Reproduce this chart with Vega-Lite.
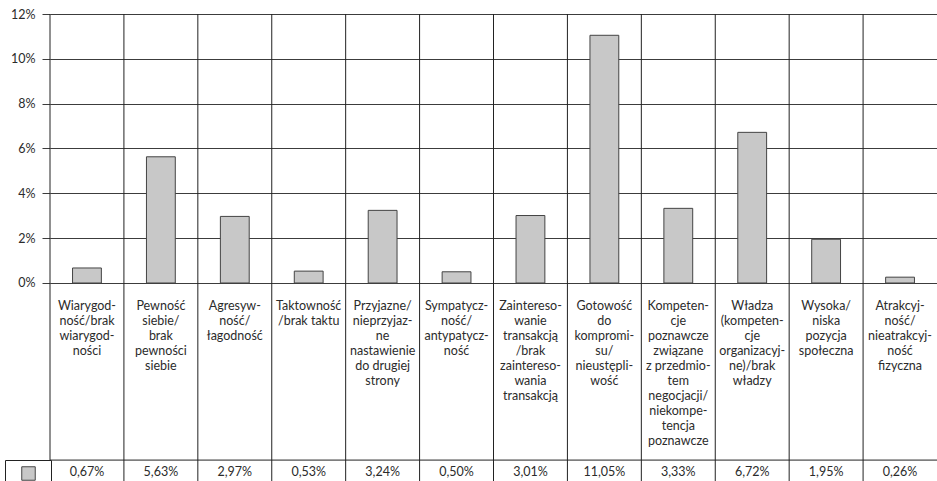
{
  "$schema": "https://vega.github.io/schema/vega-lite/v6.json",
  "width": 887,
  "height": 467,
  "autosize": {"type": "none"},
  "padding": {"left": 50, "top": 14, "right": 0, "bottom": 0},
  "background": "white",
  "config": {
    "view": {"stroke": null},
    "font": "Lato",
    "locale": {
      "number": {"decimal": ",", "thousands": "\u00a0", "grouping": [3], "currency": ["", " zł"], "percent": "%"}
    }
  },
  "data": {
    "values": [
      {"cechy": "Wiarygod-\nność/brak\nwiarygod-\nności", "udzial": 0.0067},
      {"cechy": "Pewność\nsiebie/\nbrak\npewności\nsiebie", "udzial": 0.0563},
      {"cechy": "Agresyw-\nność/\nłagodność", "udzial": 0.0297},
      {"cechy": "Taktowność\n/brak taktu", "udzial": 0.0053},
      {"cechy": "Przyjazne/\nnieprzyjaz-\nne\nnastawienie\ndo drugiej\nstrony", "udzial": 0.0324},
      {"cechy": "Sympatycz-\nność/\nantypatycz-\nność", "udzial": 0.005},
      {"cechy": "Zaintereso-\nwanie\ntransakcją\n/brak\nzaintereso-\nwania\ntransakcją", "udzial": 0.0301},
      {"cechy": "Gotowość\ndo\nkompromi-\nsu/\nnieustępli-\nwość", "udzial": 0.1105},
      {"cechy": "Kompeten-\ncje\npoznawcze\nzwiązane\nz przedmio-\ntem\nnegocjacji/\nniekompe-\ntencja\npoznawcze", "udzial": 0.0333},
      {"cechy": "Władza\n(kompeten-\ncje\norganizacyj-\nne)/brak\nwładzy", "udzial": 0.0672},
      {"cechy": "Wysoka/\nniska\npozycja\nspołeczna", "udzial": 0.0195},
      {"cechy": "Atrakcyj-\nność/\nnieatrakcyj-\nność\nfizyczna", "udzial": 0.0026}
    ]
  },
  "layer": [
    {
      "mark": {"type": "rule", "color": "#222222", "strokeWidth": 1},
      "encoding": {
        "x": {"field": "cechy", "type": "nominal", "sort": null, "bandPosition": 0, "axis": null,
              "scale": {"paddingInner": 0, "paddingOuter": 0}}
      }
    },
    {
      "mark": {"type": "bar", "width": {"band": 0.39}, "stroke": "#444444", "strokeWidth": 1},
      "encoding": {
        "x": {"field": "cechy", "type": "nominal", "sort": null, "axis": null},
        "y": {
          "field": "udzial", "type": "quantitative", "title": null,
          "scale": {"domain": [-0.08833, 0.12], "nice": false, "zero": false},
          "axis": {
            "title": null, "values": [0, 0.02, 0.04, 0.06, 0.08, 0.1, 0.12], "format": ".0%",
            "domain": false, "grid": true, "gridColor": "#3c3c3c", "gridWidth": 1,
            "tickSize": 8, "tickColor": "#3c3c3c", "labelPadding": 7,
            "labelFont": "Lato", "labelFontSize": 12.5, "labelColor": "#2b2b2b"
          }
        },
        "color": {
          "datum": "udział",
          "scale": {"range": ["#c8c8c8"]},
          "legend": {
            "orient": "none", "legendX": -45, "legendY": 446, "title": null,
            "labelExpr": "''", "symbolType": "square", "symbolSize": 182,
            "symbolStrokeColor": "#444444", "symbolStrokeWidth": 1, "symbolFillColor": "#c8c8c8",
            "strokeColor": "#222222", "fillColor": "white", "padding": 6,
            "symbolOffset": 10, "labelOffset": 9
          }
        }
      }
    },
    {
      "mark": {"type": "text", "align": "center", "baseline": "top", "lineBreak": "\n",
               "lineHeight": 15, "dy": 17, "fontSize": 12.5, "font": "Lato", "color": "#2b2b2b"},
      "encoding": {
        "x": {"field": "cechy", "type": "nominal", "sort": null},
        "y": {"datum": 0, "type": "quantitative", "title": null},
        "text": {"field": "cechy"}
      }
    },
    {
      "data": {"values": [{}]},
      "mark": {"type": "rule", "color": "#222222", "strokeWidth": 1},
      "encoding": {
        "y": {"datum": -0.079, "type": "quantitative", "title": null}
      }
    },
    {
      "mark": {"type": "text", "align": "center", "baseline": "middle", "dy": 12,
               "fontSize": 12.5, "font": "Lato", "color": "#2b2b2b"},
      "encoding": {
        "x": {"field": "cechy", "type": "nominal", "sort": null},
        "y": {"datum": -0.079, "type": "quantitative", "title": null},
        "text": {"field": "udzial", "type": "quantitative", "format": ".2%"}
      }
    }
  ]
}
